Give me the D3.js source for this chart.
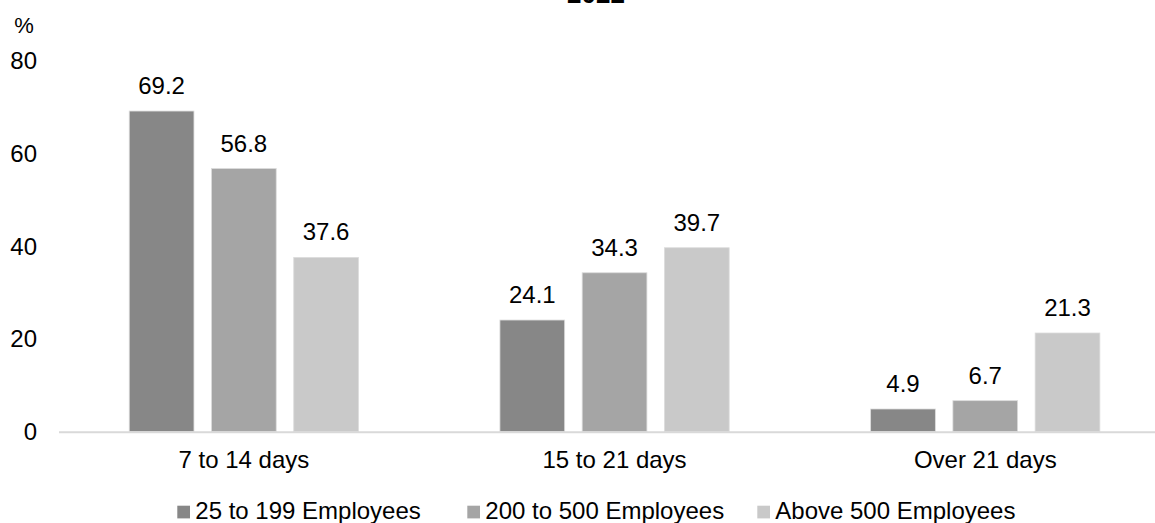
<!DOCTYPE html>
<html>
<head>
<meta charset="utf-8">
<script src="https://cdn.jsdelivr.net/npm/d3@7"></script>
<style>
  body { margin: 0; background: white; }
  text { font-family: "Liberation Sans", Arial, sans-serif; }
</style>
</head>
<body>
<div id="chart"></div>
<script>
// data
const categories = ["7 to 14 days", "15 to 21 days", "Over 21 days"];
const seriesNames = ["25 to 199 Employees", "200 to 500 Employees", "Above 500 Employees"];
const small = [69.2, 24.1, 4.9];
const medium = [56.8, 34.3, 6.7];
const large = [37.6, 39.7, 21.3];
const yTicks = [0, 20, 40, 60, 80];
const titleText = "2022";

const colors = ["#878787", "#a5a5a5", "#c9c9c9"];
const svgWidth = 1155, svgHeight = 523;

// table built from the arrays
const table = categories.map((c, i) => ({
  cat: c,
  vals: [small[i], medium[i], large[i]]
}));

let svg = d3.select("#chart")
  .append("svg")
  .attr("width", svgWidth)
  .attr("height", svgHeight);

// scales
const x0 = d3.scaleBand()
  .domain(categories)
  .range([58.5, 1170.6])
  .padding(0);

const x1 = d3.scaleBand()
  .domain(seriesNames)
  .range([0, x0.bandwidth()])
  .paddingInner(0.213)
  .paddingOuter(0.86);

const yScale = d3.scaleLinear()
  .domain([0, 80])
  .range([431.7, 61]);

// title (mostly cut off at the top, as in the original)
svg.append("text")
  .attr("x", 596)
  .attr("y", 3)
  .attr("text-anchor", "middle")
  .style("font-size", "26px")
  .style("font-weight", "bold")
  .text(titleText);

// y axis labels, no line
let yAxis = svg.append("g")
  .attr("transform", "translate(37,0)")
  .call(d3.axisLeft(yScale).tickValues(yTicks).tickSize(0).tickPadding(0));
yAxis.select(".domain").remove();
yAxis.selectAll("text")
  .style("font-size", "24px")
  .style("font-family", "'Liberation Sans', Arial, sans-serif")
  .attr("fill", "#000");

svg.append("text")
  .attr("x", 24)
  .attr("y", 33)
  .attr("text-anchor", "middle")
  .style("font-size", "22px")
  .text("%");

// bars
let groups = svg.append("g")
  .selectAll("g")
  .data(table)
  .join("g")
  .attr("transform", d => "translate(" + x0(d.cat) + ",0)");

groups.selectAll("rect")
  .data(d => d.vals.map((v, j) => ({ name: seriesNames[j], v: v, j: j })))
  .join("rect")
  .attr("x", d => x1(d.name))
  .attr("y", d => yScale(d.v))
  .attr("width", x1.bandwidth())
  .attr("height", d => yScale(0) - yScale(d.v))
  .attr("fill", d => colors[d.j])
  .attr("stroke", "#dcdcdc")
  .attr("stroke-width", 0.8);

groups.selectAll("text.val")
  .data(d => d.vals.map((v, j) => ({ name: seriesNames[j], v: v })))
  .join("text")
  .attr("class", "val")
  .attr("x", d => x1(d.name) + x1.bandwidth() / 2)
  .attr("y", d => yScale(d.v) - 17)
  .attr("text-anchor", "middle")
  .style("font-size", "24px")
  .text(d => d.v.toFixed(1));

// x axis baseline and category labels
let xAxis = svg.append("g")
  .attr("transform", "translate(0," + yScale(0) + ")")
  .call(d3.axisBottom(x0).tickSize(0).tickPadding(0));
xAxis.select(".domain")
  .attr("stroke", "#d9d9d9")
  .attr("stroke-width", 2);
xAxis.selectAll("text")
  .attr("dy", 0)
  .attr("y", 36.5)
  .attr("fill", "#000")
  .style("font-size", "24px")
  .style("font-family", "'Liberation Sans', Arial, sans-serif");

// legend
let legend = svg.append("g")
  .selectAll("g")
  .data(seriesNames)
  .join("g")
  .attr("transform", (d, i) => "translate(" + (177.3 + i * 290) + ",0)");

legend.append("rect")
  .attr("x", 0)
  .attr("y", 505.7)
  .attr("width", 12.7)
  .attr("height", 12.7)
  .attr("fill", (d, i) => colors[i]);

legend.append("text")
  .attr("x", 18)
  .attr("y", 519)
  .style("font-size", "24px")
  .text(d => d);
</script>
</body>
</html>
